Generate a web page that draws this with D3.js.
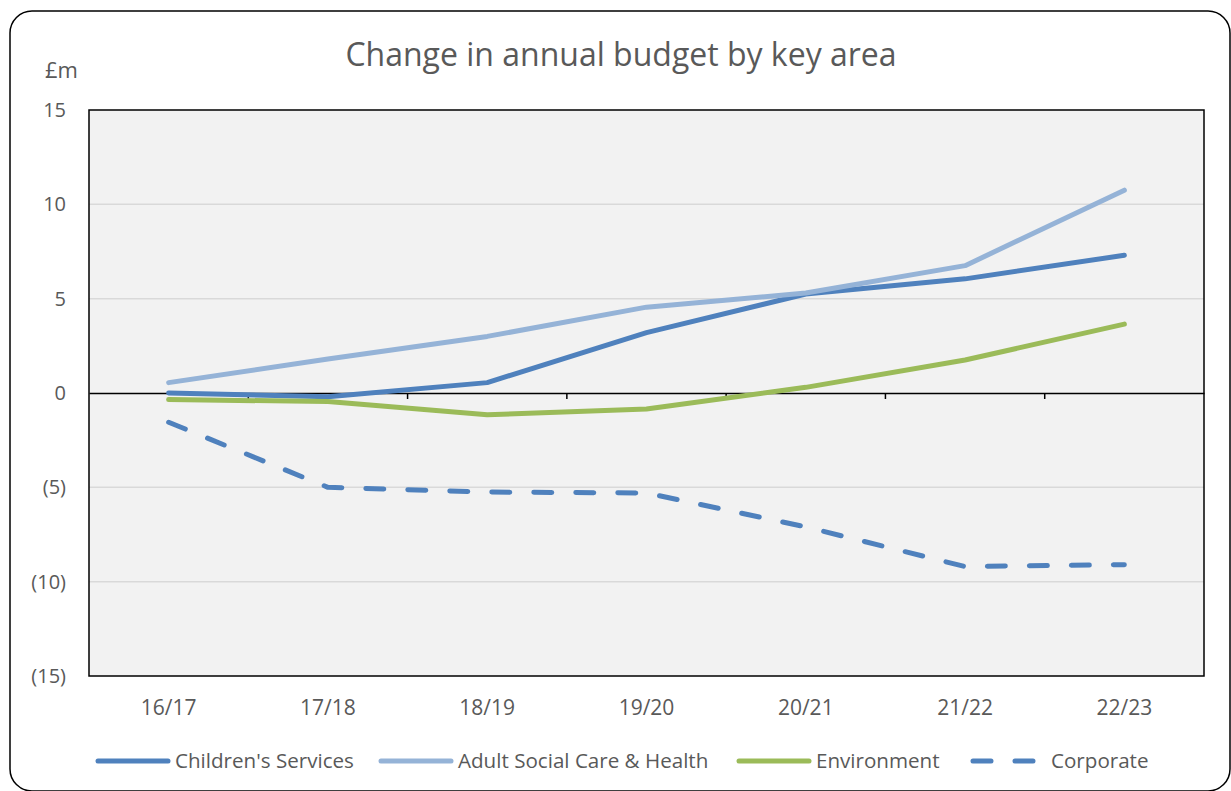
<!DOCTYPE html>
<html>
<head>
<meta charset="utf-8">
<script src="https://cdn.jsdelivr.net/npm/d3@7"></script>
<style>
  body { margin: 0; background: #fff; }
  text { font-family: "Open Sans", sans-serif; fill: #595959; }
</style>
</head>
<body>
<svg id="chart" width="1231" height="791"></svg>
<script>
const years = ["16/17", "17/18", "18/19", "19/20", "20/21", "21/22", "22/23"];
const childrens = [0.0, -0.2, 0.55, 3.2, 5.25, 6.05, 7.3];
const adultCare = [0.55, 1.8, 3.0, 4.55, 5.3, 6.75, 10.75];
const environment = [-0.35, -0.45, -1.15, -0.85, 0.3, 1.75, 3.65];
const corporate = [-1.55, -5.0, -5.25, -5.3, -7.1, -9.2, -9.1];
const yTicks = [-15, -10, -5, 0, 5, 10, 15];

const series = [
  {name: "Children's Services", values: childrens, color: "#4f81bd", dash: null},
  {name: "Adult Social Care & Health", values: adultCare, color: "#95b3d7", dash: null},
  {name: "Environment", values: environment, color: "#9bbb59", dash: null},
  {name: "Corporate", values: corporate, color: "#4f81bd", dash: "18 24"}
];

const svg = d3.select("#chart");
const plot = {left: 89, top: 110, right: 1204, bottom: 676};

// outer rounded frame
svg.append("rect")
  .attr("x", 10).attr("y", 11)
  .attr("width", 1220).attr("height", 780)
  .attr("rx", 22)
  .attr("fill", "#fff").attr("stroke", "#000").attr("stroke-width", 1.5);

const x = d3.scaleBand().domain(years).range([plot.left, plot.right]);
const y = d3.scaleLinear().domain([-15, 15]).range([plot.bottom, plot.top]);

svg.append("rect")
  .attr("x", plot.left).attr("y", plot.top)
  .attr("width", plot.right - plot.left).attr("height", plot.bottom - plot.top)
  .attr("fill", "#f2f2f2");

// gridlines
svg.append("g")
  .selectAll("line")
  .data(yTicks.filter(d => d !== 0 && Math.abs(d) !== 15))
  .join("line")
  .attr("x1", plot.left).attr("x2", plot.right)
  .attr("y1", d => y(d)).attr("y2", d => y(d))
  .attr("stroke", "#d9d9d9").attr("stroke-width", 1.5);

svg.append("rect")
  .attr("x", plot.left).attr("y", plot.top)
  .attr("width", plot.right - plot.left).attr("height", plot.bottom - plot.top)
  .attr("fill", "none").attr("stroke", "#000").attr("stroke-width", 1.5);

// y axis labels
const fmt = d => d < 0 ? `(${Math.abs(d)})` : `${d}`;
svg.append("g")
  .selectAll("text")
  .data(yTicks)
  .join("text")
  .attr("x", 66).attr("y", d => y(d))
  .attr("dy", "0.35em")
  .attr("text-anchor", "end")
  .attr("font-size", 20)
  .text(fmt);

svg.append("text")
  .attr("x", 45).attr("y", 70)
  .attr("dy", "0.35em")
  .attr("font-size", 22)
  .text("£m");

// zero axis with ticks at category boundaries
const zero = svg.append("g").attr("transform", `translate(0,${y(0)})`);
zero.call(d3.axisBottom(x).tickSize(0).tickFormat(""));
zero.select(".domain").attr("stroke", "#000").attr("stroke-width", 1.5);
zero.selectAll(".boundary")
  .data(years.slice(1))
  .join("line")
  .attr("x1", d => x(d)).attr("x2", d => x(d))
  .attr("y1", 0).attr("y2", 6)
  .attr("stroke", "#000").attr("stroke-width", 1.5);

// category labels
svg.append("g")
  .selectAll("text")
  .data(years)
  .join("text")
  .attr("x", d => x(d) + x.bandwidth() / 2)
  .attr("y", 708)
  .attr("dy", "0.35em")
  .attr("text-anchor", "middle")
  .attr("font-size", 21)
  .text(d => d);

// lines
const line = d3.line()
  .x((d, i) => x(years[i]) + x.bandwidth() / 2)
  .y(d => y(d));

svg.append("g")
  .selectAll("path")
  .data(series)
  .join("path")
  .attr("d", d => line(d.values))
  .attr("fill", "none")
  .attr("stroke", d => d.color)
  .attr("stroke-width", 5)
  .attr("stroke-linecap", "round")
  .attr("stroke-linejoin", "round")
  .attr("stroke-dasharray", d => d.dash);

// title
svg.append("text")
  .attr("x", 621).attr("y", 66)
  .attr("text-anchor", "middle")
  .attr("font-size", 32)
  .text("Change in annual budget by key area");

// legend
const legendX = [98, 381, 739, 973];
const lg = svg.append("g")
  .selectAll("g")
  .data(series)
  .join("g")
  .attr("transform", (d, i) => `translate(${legendX[i]},761)`);

lg.append("line")
  .attr("x1", 0).attr("x2", d => d.dash ? 66 : 70)
  .attr("y1", 0).attr("y2", 0)
  .attr("stroke", d => d.color)
  .attr("stroke-width", 5)
  .attr("stroke-linecap", "round")
  .attr("stroke-dasharray", d => d.dash);

lg.append("text")
  .attr("x", d => d.dash ? 78 : 77)
  .attr("y", 0)
  .attr("dy", "0.35em")
  .attr("font-size", 20.6)
  .text(d => d.name);
</script>
</body>
</html>
